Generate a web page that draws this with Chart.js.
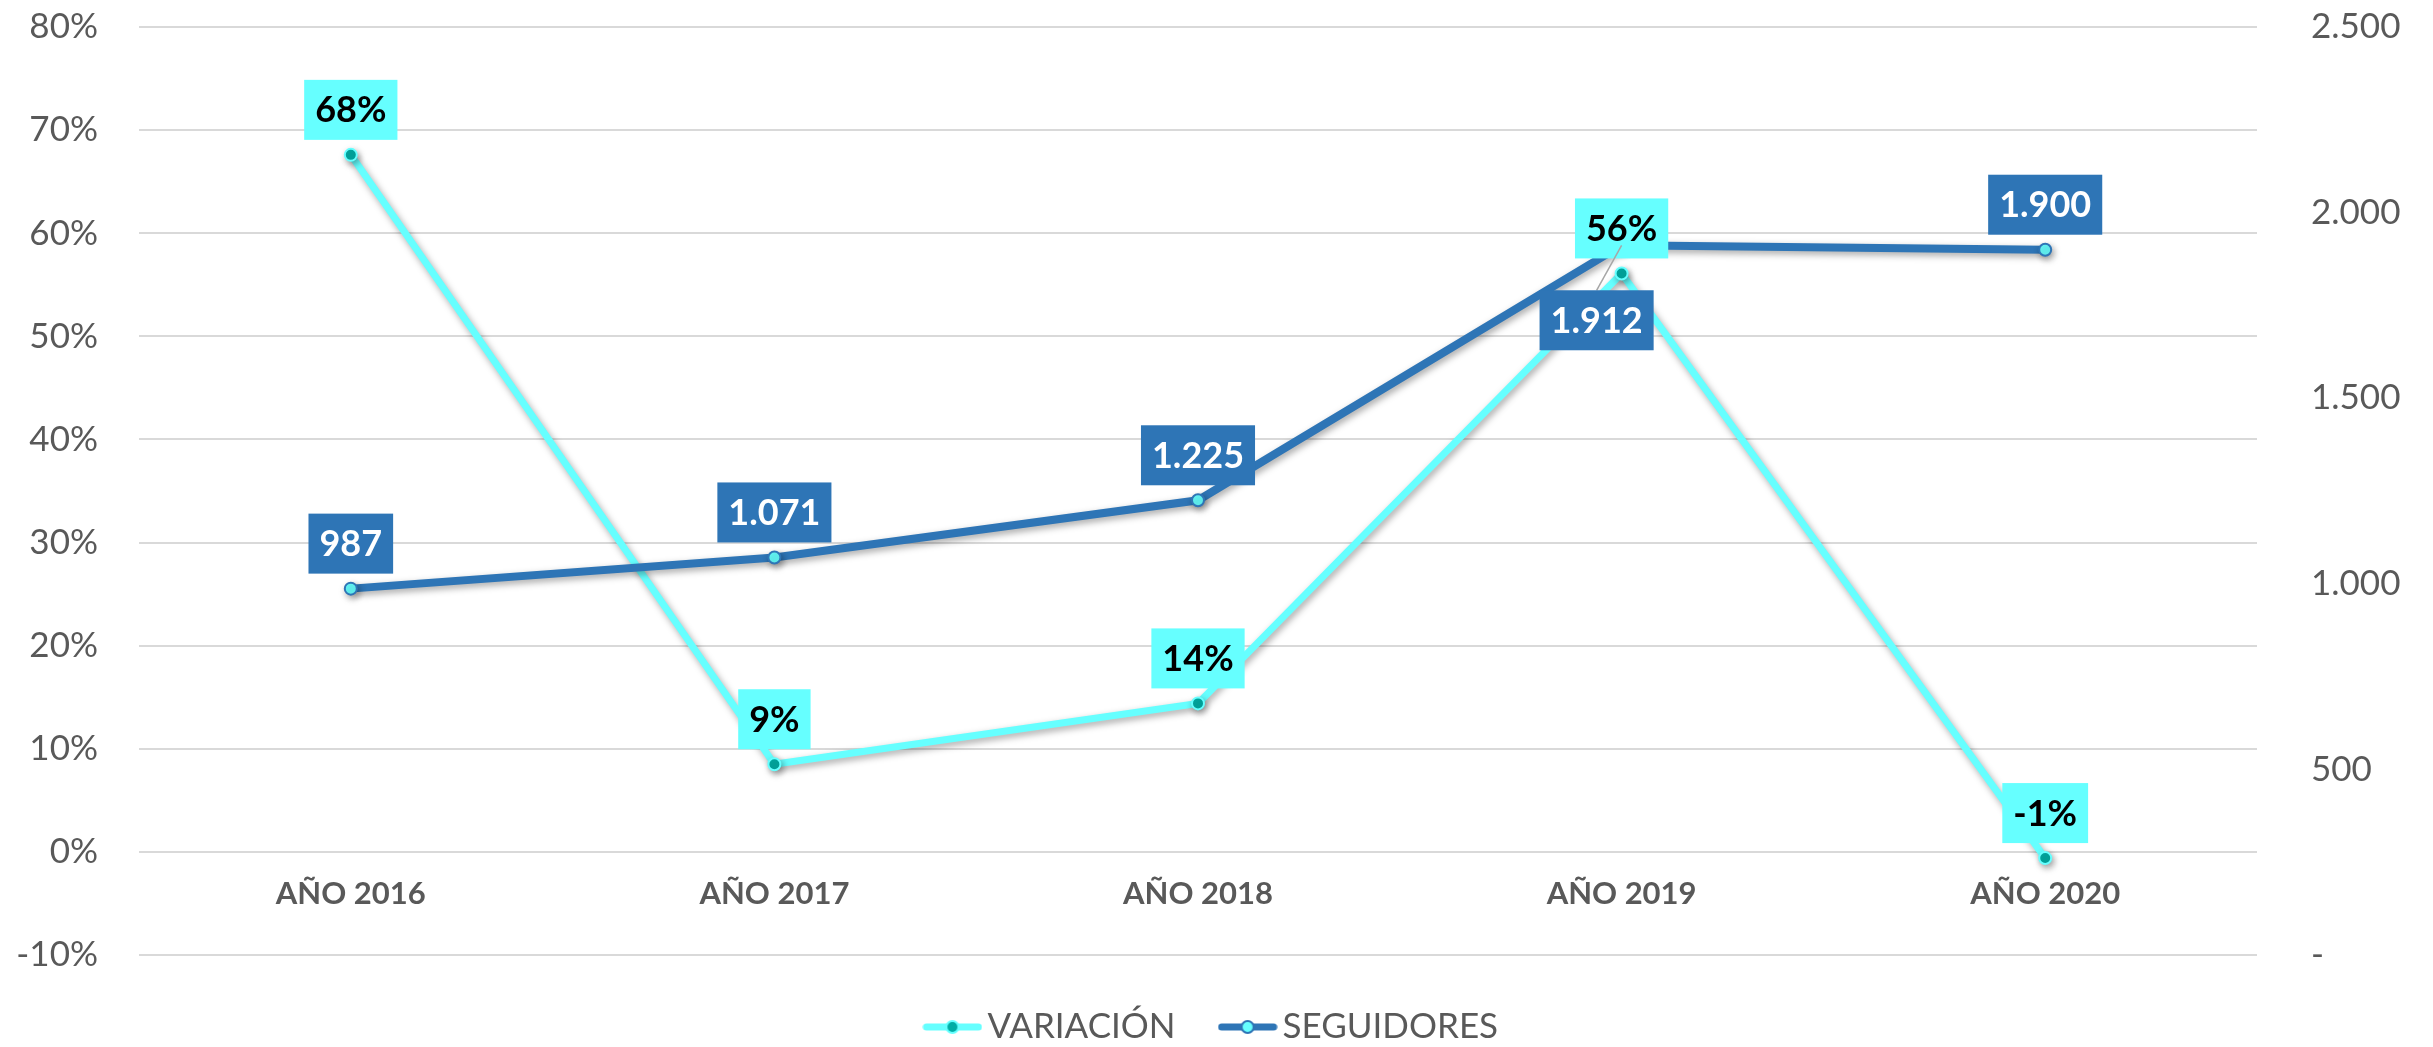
<!DOCTYPE html>
<html>
<head>
<meta charset="utf-8">
<title>Variación y seguidores</title>
<script src="https://cdn.jsdelivr.net/npm/chart.js@4.4.0/dist/chart.umd.min.js"></script>
<style>
    body { margin: 0; background: #ffffff; }
    canvas { display: block; }
</style>
</head>
<body>
<canvas id="seguidoresChart" width="2433" height="1047"></canvas>
<script>
// Chart data
const years = ['AÑO 2016', 'AÑO 2017', 'AÑO 2018', 'AÑO 2019', 'AÑO 2020'];
const variacion = [67.6, 8.5, 14.4, 56.1, -0.6];
const seguidores = [987, 1071, 1225, 1912, 1900];
const seriesNames = ['VARIACIÓN', 'SEGUIDORES'];

const cyan = '#66FFFF';
const teal = '#00ADA5';
const blue = '#2E75B6';
const grey = '#595959';

// Number with dots as thousands separator (1.071)
function formatMiles(value) {
    return String(Math.round(value)).replace(/\B(?=(\d{3})+(?!\d))/g, '.');
}

// Small canvas with a line and a dot, used as legend symbol
function legendSymbol(lineColor, dotColor, dotBorder) {
    const c = document.createElement('canvas');
    c.width = 60;
    c.height = 20;
    const g = c.getContext('2d');
    g.strokeStyle = lineColor;
    g.lineWidth = 7;
    g.lineCap = 'round';
    g.beginPath();
    g.moveTo(4, 10);
    g.lineTo(56, 10);
    g.stroke();
    g.beginPath();
    g.arc(30, 10, 6, 0, Math.PI * 2);
    g.fillStyle = dotColor;
    g.fill();
    g.lineWidth = 2;
    g.strokeStyle = dotBorder;
    g.stroke();
    return c;
}

const symbols = [legendSymbol(cyan, teal, cyan), legendSymbol(blue, cyan, blue)];

// Soft shadow under the lines
const lineShadow = {
    id: 'lineShadow',
    beforeDatasetDraw(chart) {
        const ctx = chart.ctx;
        ctx.save();
        ctx.shadowColor = 'rgba(0, 0, 0, 0.35)';
        ctx.shadowBlur = 7;
        ctx.shadowOffsetX = 2;
        ctx.shadowOffsetY = 3;
    },
    afterDatasetDraw(chart) {
        chart.ctx.restore();
    }
};

// Boxed value labels over each point
const boxLabels = {
    id: 'boxLabels',
    afterDatasetsDraw(chart, args, opts) {
        const ctx = chart.ctx;
        ctx.save();
        ctx.font = 'bold 36px Lato';
        ctx.textAlign = 'center';
        ctx.textBaseline = 'middle';
        [0, 1].forEach((di) => {
            const ds = chart.data.datasets[di];
            const meta = chart.getDatasetMeta(di);
            meta.data.forEach((pt, i) => {
                const text = di === 0 ? Math.round(ds.data[i]) + '%' : formatMiles(ds.data[i]);
                const shift = (opts.shifts[di] && opts.shifts[di][i]) || [0, -45];
                const cx = pt.x + shift[0];
                const cy = pt.y + shift[1];
                const w = ctx.measureText(text).width + 22;
                const h = 60;
                if (shift[1] > 0) {
                    // leader line from label to point
                    ctx.strokeStyle = '#A6A6A6';
                    ctx.lineWidth = 1.5;
                    ctx.beginPath();
                    ctx.moveTo(cx, cy - h / 2);
                    ctx.lineTo(pt.x, pt.y);
                    ctx.stroke();
                }
                ctx.fillStyle = di === 0 ? cyan : blue;
                ctx.fillRect(cx - w / 2, cy - h / 2, w, h);
                ctx.fillStyle = di === 0 ? '#000000' : '#FFFFFF';
                ctx.fillText(text, cx, cy + 1);
            });
        });
        ctx.restore();
    }
};

// Create a chart
const ctx = document.getElementById('seguidoresChart').getContext('2d');
new Chart(ctx, {
    type: 'line',
    data: {
        labels: years,
        datasets: [
            {
                label: seriesNames[0],
                data: variacion,
                yAxisID: 'y',
                order: 1,
                borderColor: cyan,
                borderWidth: 7,
                pointRadius: 6,
                pointBackgroundColor: teal,
                pointBorderColor: cyan,
                pointBorderWidth: 2,
                tension: 0,
            },
            {
                label: seriesNames[1],
                data: seguidores,
                yAxisID: 'y2',
                order: 0,
                borderColor: blue,
                borderWidth: 8,
                pointRadius: 6,
                pointBackgroundColor: cyan,
                pointBorderColor: blue,
                pointBorderWidth: 2,
                tension: 0,
            },
        ],
    },
    options: {
        responsive: false,
        animation: false,
        layout: {
            padding: { top: 27, left: 0, right: 0, bottom: -7.5 },
        },
        scales: {
            x: {
                position: { y: 0 },
                offset: true,
                grid: { display: false, drawTicks: false },
                border: { display: false },
                ticks: {
                    color: grey,
                    padding: 24,
                    font: { family: 'Lato', size: 31, weight: 'bold' },
                },
            },
            y: {
                position: 'left',
                min: -10,
                max: 80,
                // transparent tick marks push the labels away from the plot
                grid: { color: '#D9D9D9', lineWidth: 2, drawTicks: true, tickLength: 41, tickColor: 'rgba(0,0,0,0)' },
                border: { display: false },
                ticks: {
                    stepSize: 10,
                    color: grey,
                    padding: 0,
                    font: { family: 'Lato', size: 35 },
                    callback: (v) => v + '%',
                },
                afterFit: (scale) => { scale.width = 139; },
            },
            y2: {
                position: 'right',
                min: 0,
                max: 2500,
                grid: { display: true, drawOnChartArea: false, drawTicks: true, tickLength: 54, tickColor: 'rgba(0,0,0,0)' },
                border: { display: false },
                ticks: {
                    stepSize: 500,
                    color: grey,
                    padding: 0,
                    font: { family: 'Lato', size: 35 },
                    callback: (v) => (v === 0 ? '-' : formatMiles(v)),
                },
                afterFit: (scale) => { scale.width = 176; },
            },
        },
        plugins: {
            tooltip: { enabled: false },
            legend: {
                position: 'bottom',
                labels: {
                    usePointStyle: true,
                    pointStyleWidth: 35,
                    padding: 54.5,
                    color: grey,
                    font: { family: 'Lato', size: 35 },
                    generateLabels: (chart) => {
                        const items = Chart.defaults.plugins.legend.labels.generateLabels(chart);
                        items.sort((a, b) => a.datasetIndex - b.datasetIndex);
                        items.forEach((item) => { item.pointStyle = symbols[item.datasetIndex]; });
                        return items;
                    },
                },
            },
            boxLabels: {
                shifts: { 1: { 3: [-25, 75] } },
            },
        },
    },
    plugins: [lineShadow, boxLabels],
});
</script>
</body>
</html>
